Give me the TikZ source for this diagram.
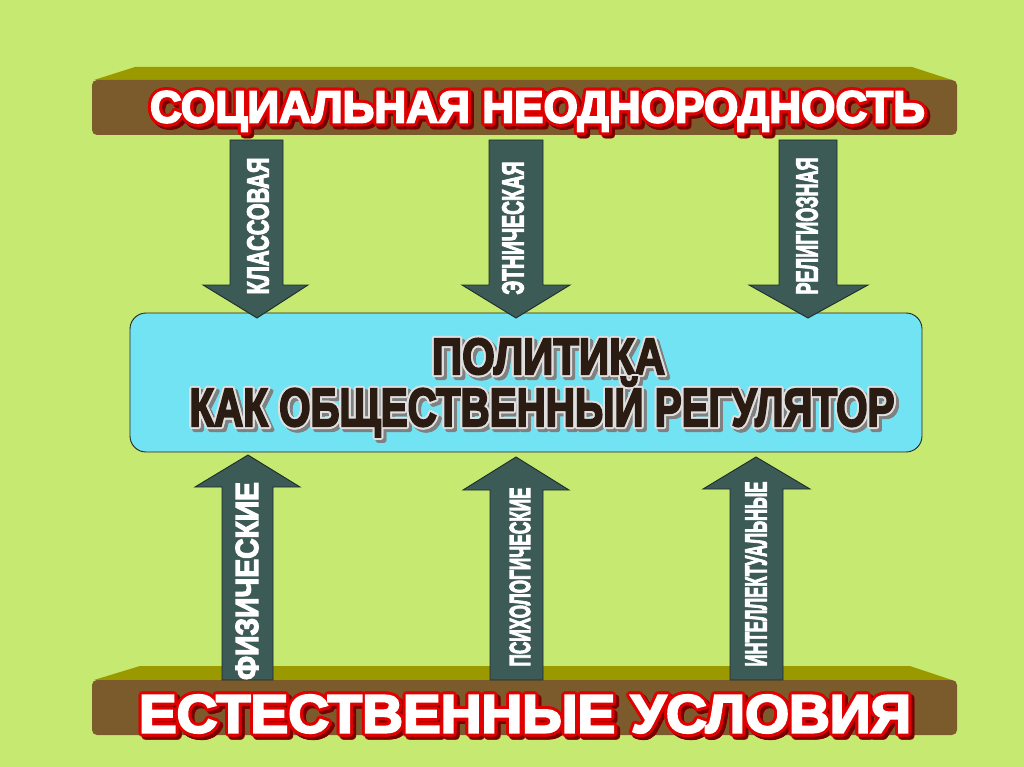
\documentclass[tikz,border=0pt]{standalone}
\usepackage{fontspec}
\setmainfont{Liberation Sans}
\newfontfamily\heavy{Liberation Sans}[BoldFeatures={FakeBold=4}]
\usepackage{graphicx}
\usepackage{contour}
\contournumber{16}
\definecolor{bg}{HTML}{C6EA71}
\definecolor{olive}{HTML}{9A9A00}
\definecolor{brownf}{HTML}{7B5B2B}
\definecolor{cyanbox}{HTML}{72E3F2}
\definecolor{arrowf}{HTML}{3C5A56}
\definecolor{arrowd}{HTML}{1E2C2A}
\definecolor{redo}{HTML}{E00000}
\definecolor{reds}{HTML}{7A0000}
\definecolor{darkt}{HTML}{2A1C12}
\newcommand{\fitt}[3]{\resizebox{#1pt}{#2pt}{\raisebox{0pt}[\fontcharht\font`\H][0pt]{#3}}}
\tikzset{
  face/.style={fill=olive, draw=none},
  front/.style={fill=brownf, draw=none, rounded corners=5pt},
  blockarrow/.style={fill=arrowf, draw=arrowd, line width=0.9pt, line join=miter},
  basetxt/.style={inner sep=0pt, font=\heavy\bfseries\fontsize{30}{30}\selectfont},
  vlabel/.style={basetxt, text=white, rotate=90},
}
\begin{document}
\begin{tikzpicture}[x=1pt,y=-1pt]
\useasboundingbox (0,0) rectangle (1024,767);
\fill[bg] (0,0) rectangle (1024,767);
% top bar
\fill[face] (135,67) -- (912,67) -- (952,80) -- (94,80) -- cycle;
\node[front, minimum width=865pt, minimum height=55pt, inner sep=0pt] (topbar) at (524.5,107.5) {};
% bottom bar
\fill[face] (140,666) -- (910,666) -- (952,680) -- (94,680) -- cycle;
\node[front, minimum width=865pt, minimum height=55pt, inner sep=0pt] (botbar) at (524.5,707.5) {};
% central box
\node[fill=cyanbox, draw=black!85, line width=0.9pt, rounded corners=16pt,
      minimum width=792pt, minimum height=139pt, inner sep=0pt] (box) at (526,382.5) {};
% down arrows
\draw[blockarrow] (230,140) -- (283,140) -- (283,285) -- (308,285) -- (257,318) -- (203,285) -- (230,285) -- cycle;
\draw[blockarrow] (489,140) -- (543,140) -- (543,285) -- (570,285) -- (516,318) -- (462,285) -- (489,285) -- cycle;
\draw[blockarrow] (779,140) -- (837,140) -- (837,285) -- (868,285) -- (808,318) -- (749,285) -- (779,285) -- cycle;
% up arrows
\draw[blockarrow] (222,680) -- (273,680) -- (273,487) -- (300,487) -- (248,455) -- (195,487) -- (222,487) -- cycle;
\draw[blockarrow] (490,680) -- (543,680) -- (543,490) -- (569,490) -- (516,457) -- (463,490) -- (490,490) -- cycle;
\draw[blockarrow] (730,680) -- (783,680) -- (783,489) -- (810,489) -- (756,457) -- (703,489) -- (730,489) -- cycle;
% bar texts
\contourlength{3pt}
\node[basetxt, text=reds] (topsh) at (540.5,111.5) {\contour{reds}{\fitt{775}{31}{СОЦИАЛЬНАЯ НЕОДНОРОДНОСТЬ}}};
\node[basetxt, text=white] (toptxt) at (537.5,108.5) {\contour{redo}{\fitt{775}{31}{СОЦИАЛЬНАЯ НЕОДНОРОДНОСТЬ}}};
\node[basetxt, text=reds] (botsh) at (528,718.5) {\contour{reds}{\fitt{772}{37}{ЕСТЕСТВЕННЫЕ УСЛОВИЯ}}};
\node[basetxt, text=white] (bottxt) at (525,715.5) {\contour{redo}{\fitt{772}{37}{ЕСТЕСТВЕННЫЕ УСЛОВИЯ}}};
% central texts
\contourlength{2pt}
\node[basetxt, text=black!50] (c1sh) at (551.5,360.5) {\contour{black!50}{\fitt{233}{35}{ПОЛИТИКА}}};
\node[basetxt, text=darkt] (c1) at (548.5,357.5) {\contour{gray!25}{\fitt{233}{35}{ПОЛИТИКА}}};
\node[basetxt, text=black!50] (c2sh) at (545,411.5) {\contour{black!50}{\fitt{705}{37}{КАК ОБЩЕСТВЕННЫЙ РЕГУЛЯТОР}}};
\node[basetxt, text=darkt] (c2) at (542,408.5) {\contour{gray!25}{\fitt{705}{37}{КАК ОБЩЕСТВЕННЫЙ РЕГУЛЯТОР}}};
% arrow labels
\node[vlabel] (l1) at (258,226) {\fitt{137}{21}{КЛАССОВАЯ}};
\node[vlabel] (l2) at (513,228) {\fitt{133}{21}{ЭТНИЧЕСКАЯ}};
\node[vlabel] (l3) at (807,226) {\fitt{137}{21}{РЕЛИГИОЗНАЯ}};
\node[vlabel] (l4) at (247,581) {\fitt{198}{22}{ФИЗИЧЕСКИЕ}};
\node[vlabel] (l5) at (520,577) {\fitt{179}{20}{ПСИХОЛОГИЧЕСКИЕ}};
\node[vlabel] (l6) at (756,574) {\fitt{185}{21}{ИНТЕЛЛЕКТУАЛЬНЫЕ}};
\end{tikzpicture}
\end{document}
